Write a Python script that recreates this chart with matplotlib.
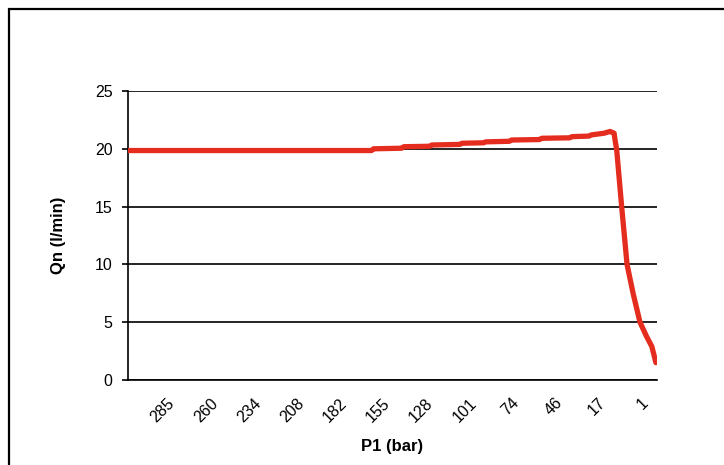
import numpy as np
import matplotlib.pyplot as plt
from matplotlib.patches import Rectangle

plt.rcParams['font.family'] = ['Liberation Sans', 'DejaVu Sans']

# sample index (category position) and measured flow
sample = [0, 60, 113, 114, 127, 128, 140, 141, 154, 155, 165, 166, 177, 178,
          191, 192, 205, 206, 214, 215, 221, 223.7, 225.6, 226.0, 226.8, 229.1,
          231.6, 234.4, 237.6, 240.7, 243.1, 245.0]
qn = [19.85, 19.85, 19.85, 20.0, 20.05, 20.18, 20.22, 20.33, 20.38, 20.48,
      20.52, 20.6, 20.65, 20.76, 20.8, 20.91, 20.95, 21.05, 21.1, 21.2, 21.35,
      21.5, 21.35, 20.8, 19.9, 15.0, 10.0, 7.5, 5.0, 3.75, 2.9, 1.5]

# category positions carrying a label, and the P1 readings shown there
tick_pos = [23, 43, 63, 83, 103, 123, 143, 163, 183, 203, 223, 243]
tick_lbl = ['285', '260', '234', '208', '182', '155', '128', '101', '74', '46', '17', '1']

y_ticks = [0, 5, 10, 15, 20, 25]


def plot_chart():
    fig = plt.figure(figsize=(7.24, 4.65), dpi=100)

    # outer chart frame (runs off the right and bottom edge)
    fig.patches.append(Rectangle((9 / 724, -0.1), 1.2, 1 - 9 / 465 + 0.1,
                                 transform=fig.transFigure, fill=False,
                                 edgecolor='black', linewidth=1.6))

    ax = fig.add_axes([128 / 724, 1 - 380 / 465, 529 / 724, 289 / 465])
    ax.plot(sample, qn, color='#E42D1F', linewidth=3.8,
            solid_capstyle='round', solid_joinstyle='round', zorder=3)

    ax.set_xlim(0, 245.5)
    ax.set_ylim(0, 25)
    ax.set_yticks(y_ticks)
    ax.yaxis.grid(True, color='black', linewidth=1.2)
    ax.set_axisbelow(True)

    ax.set_xticks(tick_pos)
    ax.set_xticklabels(tick_lbl, rotation=45, ha='right', fontsize=11.5)
    ax.tick_params(axis='x', length=0, pad=11)
    ax.tick_params(axis='y', length=4, width=1.2, direction='out', pad=7,
                   labelsize=11.5)

    for side in ['top', 'right']:
        ax.spines[side].set_visible(False)
    ax.spines['left'].set_linewidth(1.2)
    ax.spines['bottom'].set_linewidth(1.2)

    ax.set_xlabel('P1 (bar)', fontsize=12, fontweight='bold', labelpad=10)
    ax.set_ylabel('Qn (l/min)', fontsize=12, fontweight='bold', labelpad=21)

    fig.savefig('out.png', dpi=100)


if __name__ == "__main__":
    plot_chart()
